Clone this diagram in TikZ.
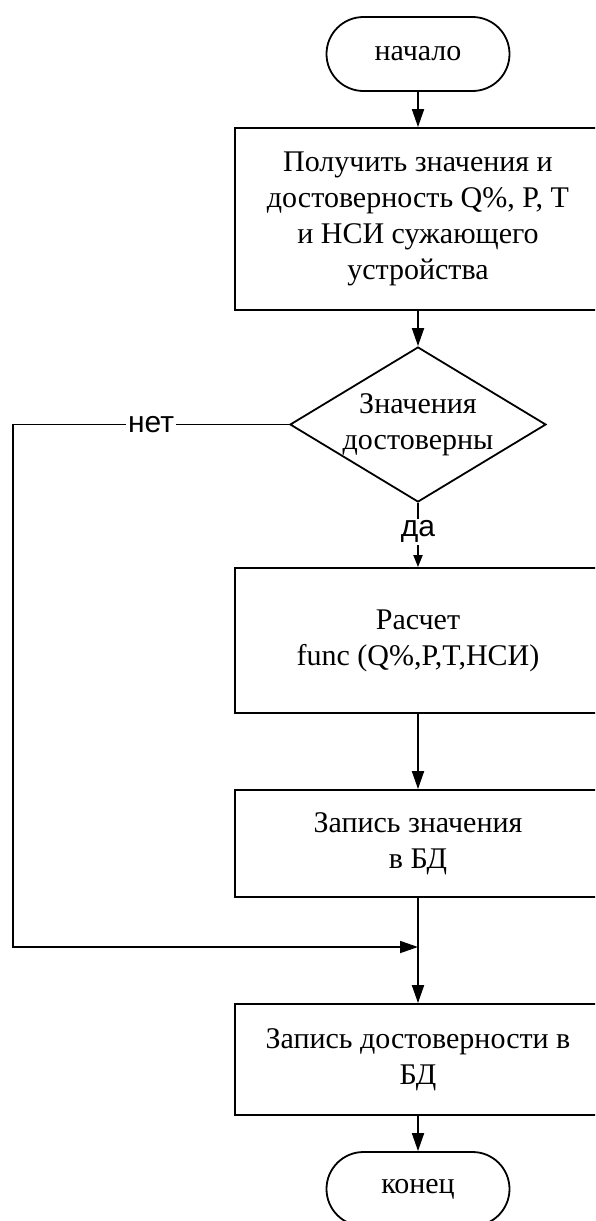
\documentclass[tikz,border=0pt]{standalone}
\usepackage{fontspec}
\setmainfont{Liberation Serif}
\newfontfamily\labelsans{Liberation Sans}
\usetikzlibrary{arrows.meta,shapes.geometric,shapes.misc}

\begin{document}
\begin{tikzpicture}[x=0.5pt,y=-0.5pt,line width=0.9pt,
  font=\fontsize{15}{18}\selectfont,
  term/.style={draw,rounded rectangle,minimum width=91.5pt,minimum height=37pt,inner sep=0pt},
  proc/.style={draw,rectangle,minimum width=183pt,align=center,inner sep=2pt},
  cond/.style={draw,diamond,shape aspect=1.65,minimum width=128pt,minimum height=77.5pt,inner sep=-10pt,align=center},
  flow/.style={-{Triangle[length=9pt,width=6pt]}},
  yesno/.style={font=\labelsans\fontsize{15}{18}\selectfont,fill=white,inner sep=1pt}]
\useasboundingbox (0,0) rectangle (595,1221);
\clip (0,0) rectangle (595,1221);
% blocks
\node[term] (start) at (418,54) {начало};
\node[proc,minimum height=91pt] (get) at (418,219) {Получить значения и\\достоверность Q\%, P, T\\и НСИ сужающего\\устройства};
\node[cond] (valid) at (418,424.5) {Значения\\достоверны};
\node[proc,minimum height=72.5pt] (calc) at (418,640.5) {Расчет\\func (Q\%,P,T,НСИ)};
\node[proc,minimum height=53.5pt] (saveval) at (418,843.5) {Запись значения\\в БД};
\node[proc,minimum height=55.5pt] (saverel) at (418,1059.5) {Запись достоверности в\\БД};
\node[term] (stop) at (418,1189) {конец};
\coordinate (join) at (418,947);
% arrows
\draw[flow] (start) -- (get);
\draw[flow] (get) -- (valid);
\draw[-{Triangle[length=6pt,width=4.5pt]}] (valid) -- node[yesno,pos=0.45] {да} (calc);
\draw[flow] (calc) -- (saveval);
\draw[flow] (saveval) -- (saverel);
\draw[flow] (valid.west) -- node[yesno] {нет} (13,424.5) |- (join);
\draw[flow] (saverel) -- (stop);
\end{tikzpicture}
\end{document}
